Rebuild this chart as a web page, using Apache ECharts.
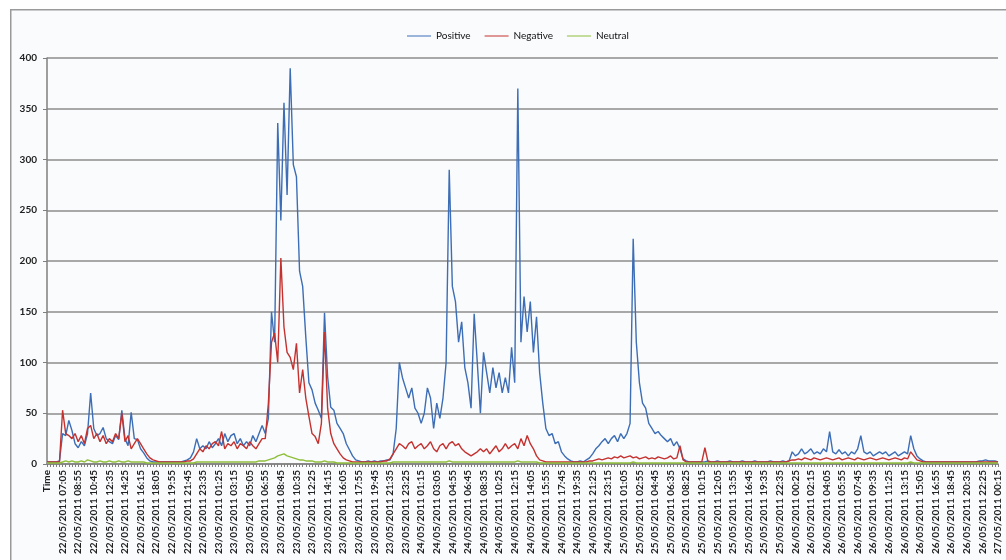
<!DOCTYPE html>
<html>
<head>
<meta charset="utf-8">
<script src="https://cdn.jsdelivr.net/npm/echarts@6/dist/echarts.min.js"></script>
<style>
  html, body { margin: 0; padding: 0; background: #ffffff; }
  #chart { width: 1006px; height: 560px; }
</style>
</head>
<body>
<div id="chart"></div>
<script>
// tick labels shown on the x axis (one every 5 samples)
const tickLabels = [
  'Time',
  '22/05/2011 07:05', '22/05/2011 08:55', '22/05/2011 10:45', '22/05/2011 12:35', '22/05/2011 14:25',
  '22/05/2011 16:15', '22/05/2011 18:05', '22/05/2011 19:55', '22/05/2011 21:45', '22/05/2011 23:35',
  '23/05/2011 01:25', '23/05/2011 03:15', '23/05/2011 05:05', '23/05/2011 06:55', '23/05/2011 08:45',
  '23/05/2011 10:35', '23/05/2011 12:25', '23/05/2011 14:15', '23/05/2011 16:05', '23/05/2011 17:55',
  '23/05/2011 19:45', '23/05/2011 21:35', '23/05/2011 23:25',
  '24/05/2011 01:15', '24/05/2011 03:05', '24/05/2011 04:55', '24/05/2011 06:45', '24/05/2011 08:35',
  '24/05/2011 10:25', '24/05/2011 12:15', '24/05/2011 14:05', '24/05/2011 15:55', '24/05/2011 17:45',
  '24/05/2011 19:35', '24/05/2011 21:25', '24/05/2011 23:15',
  '25/05/2011 01:05', '25/05/2011 02:55', '25/05/2011 04:45', '25/05/2011 06:35', '25/05/2011 08:25',
  '25/05/2011 10:15', '25/05/2011 12:05', '25/05/2011 13:55', '25/05/2011 16:45', '25/05/2011 19:35',
  '25/05/2011 22:35',
  '26/05/2011 00:25', '26/05/2011 02:15', '26/05/2011 04:05', '26/05/2011 05:55', '26/05/2011 07:45',
  '26/05/2011 09:35', '26/05/2011 11:25', '26/05/2011 13:15', '26/05/2011 15:05', '26/05/2011 16:55',
  '26/05/2011 18:45', '26/05/2011 20:35', '26/05/2011 22:25',
  '27/05/2011 00:15'
];
const STEP = 5;

const positive = [
  2, 2, 2, 2, 3, 30, 28, 43, 33, 20,
  16, 22, 18, 30, 70, 35, 28, 30, 36, 25,
  22, 20, 28, 24, 53, 25, 18, 51, 25, 24,
  15, 11, 6, 3, 2, 2, 2, 2, 2, 2,
  2, 2, 2, 2, 3, 4, 6, 12, 25, 15,
  18, 15, 22, 16, 20, 25, 18, 30, 22, 28,
  30, 20, 25, 18, 22, 18, 28, 22, 30, 38,
  30, 45, 150, 120, 336, 240, 356, 265, 390, 295,
  283, 190, 175, 125, 80, 73, 60, 53, 45, 149,
  86, 56, 53, 40, 35, 30, 20, 14, 8, 4,
  3, 2, 2, 3, 2, 3, 2, 3, 3, 4,
  4, 10, 35, 100, 85, 75, 65, 75, 55, 50,
  40, 50, 75, 65, 35, 60, 45, 65, 100, 290,
  175, 160, 120, 140, 95, 80, 55, 148, 100, 50,
  110, 90, 70, 95, 75, 90, 70, 85, 70, 115,
  80, 370, 120, 165, 130, 160, 110, 145, 90, 60,
  35, 28, 30, 20, 22, 12, 8, 5, 3, 2,
  2, 3, 2, 4, 6, 10, 15, 18, 22, 25,
  20, 25, 28, 22, 30, 25, 30, 40, 222, 120,
  80, 60, 55, 40, 35, 30, 32, 28, 25, 22,
  25, 18, 22, 15, 5, 3, 2, 2, 2, 2,
  2, 2, 3, 2, 2, 3, 2, 2, 2, 3,
  2, 2, 2, 3, 2, 2, 2, 3, 2, 2,
  2, 2, 3, 2, 2, 2, 3, 2, 3, 12,
  8, 10, 15, 10, 12, 15, 10, 12, 10, 15,
  12, 32, 12, 10, 14, 10, 12, 8, 12, 10,
  15, 28, 12, 10, 12, 8, 10, 12, 10, 12,
  8, 10, 12, 8, 10, 12, 10, 28, 15, 8,
  5, 3, 2, 2, 2, 2, 2, 2, 2, 2,
  2, 2, 2, 2, 2, 2, 2, 2, 2, 3,
  3, 4, 3, 3, 3, 2
];
const negative = [
  2, 2, 2, 2, 2, 53, 30, 28, 25, 30,
  22, 28, 20, 35, 38, 25, 30, 22, 28, 20,
  25, 22, 30, 25, 50, 22, 28, 15, 20, 25,
  20, 15, 10, 6, 4, 3, 2, 2, 2, 2,
  2, 2, 2, 2, 2, 3, 3, 5, 10, 15,
  12, 18, 15, 20, 22, 18, 32, 15, 20, 18,
  22, 15, 20, 18, 15, 22, 18, 15, 20, 25,
  25, 60, 120, 129, 100, 203, 135, 110, 105, 93,
  119, 70, 93, 65, 47, 30, 27, 20, 40, 130,
  55, 30, 20, 15, 10, 6, 4, 3, 2, 2,
  2, 2, 2, 2, 2, 2, 2, 2, 3, 3,
  5, 10, 15, 20, 18, 15, 20, 22, 15, 18,
  20, 15, 18, 22, 15, 12, 18, 20, 15, 20,
  22, 18, 20, 15, 12, 10, 8, 10, 12, 15,
  12, 15, 10, 14, 18, 12, 15, 20, 15, 18,
  20, 15, 25, 18, 28, 20, 15, 8, 4, 3,
  2, 2, 2, 2, 2, 2, 2, 2, 2, 2,
  2, 2, 2, 2, 3, 3, 4, 5, 4, 5,
  6, 5, 7, 6, 8, 6, 7, 8, 6, 7,
  5, 6, 7, 5, 6, 5, 7, 6, 5, 6,
  8, 5, 6, 18, 4, 2, 2, 2, 2, 2,
  2, 16, 2, 2, 2, 2, 2, 2, 2, 2,
  2, 2, 2, 2, 2, 2, 2, 2, 2, 2,
  2, 2, 2, 2, 2, 2, 2, 2, 3, 4,
  4, 5, 4, 6, 5, 4, 6, 5, 4, 5,
  6, 5, 4, 5, 6, 4, 5, 6, 5, 4,
  6, 5, 4, 5, 6, 5, 4, 5, 6, 5,
  4, 5, 6, 5, 4, 6, 5, 12, 8, 4,
  3, 2, 2, 2, 2, 2, 2, 2, 2, 2,
  2, 2, 2, 2, 2, 2, 2, 2, 2, 2,
  2, 2, 2, 2, 2, 2
];
const neutral = [
  1, 1, 1, 1, 1, 2, 3, 2, 3, 2,
  2, 3, 2, 4, 3, 2, 2, 3, 2, 2,
  3, 2, 2, 3, 2, 2, 3, 2, 2, 2,
  2, 2, 1, 1, 1, 1, 1, 1, 1, 1,
  1, 1, 1, 1, 1, 1, 1, 1, 2, 2,
  2, 2, 2, 2, 2, 2, 2, 2, 2, 2,
  2, 2, 2, 2, 2, 2, 2, 2, 3, 3,
  3, 4, 5, 6, 8, 9, 10, 8, 7, 6,
  5, 4, 4, 3, 3, 3, 2, 2, 2, 3,
  2, 2, 2, 1, 1, 1, 1, 1, 1, 1,
  1, 1, 1, 1, 1, 1, 1, 1, 1, 1,
  1, 2, 2, 2, 2, 2, 2, 2, 2, 2,
  2, 2, 2, 2, 2, 2, 2, 2, 2, 3,
  2, 2, 2, 2, 2, 2, 2, 2, 2, 2,
  2, 2, 2, 2, 2, 2, 2, 2, 2, 2,
  2, 3, 2, 2, 2, 2, 2, 2, 1, 1,
  1, 1, 1, 1, 1, 1, 1, 1, 1, 1,
  1, 1, 1, 1, 1, 1, 1, 1, 1, 1,
  1, 1, 1, 1, 1, 1, 1, 1, 2, 1,
  1, 1, 1, 1, 1, 1, 1, 1, 1, 1,
  1, 1, 1, 1, 1, 1, 1, 1, 1, 1,
  1, 1, 1, 1, 1, 1, 1, 1, 1, 1,
  1, 1, 1, 1, 1, 1, 1, 1, 1, 1,
  1, 1, 1, 1, 1, 1, 1, 1, 1, 1,
  1, 1, 1, 1, 1, 1, 1, 1, 1, 1,
  1, 1, 1, 1, 1, 1, 1, 1, 1, 1,
  1, 1, 1, 1, 1, 1, 1, 1, 1, 1,
  1, 1, 1, 1, 1, 1, 1, 2, 1, 1,
  1, 1, 1, 1, 1, 1, 1, 1, 1, 1,
  1, 1, 1, 1, 1, 1, 1, 1, 1, 1,
  1, 1, 1, 1, 1, 1
];

// build the full category list: every tick label plus the samples between them
function parseTime(s) {
  const m = s.match(/(\d+)\/(\d+)\/(\d+) (\d+):(\d+)/);
  if (!m) return null;
  return Date.UTC(+m[3], +m[2] - 1, +m[1], +m[4], +m[5]);
}
function fmtTime(t) {
  const d = new Date(t);
  const p = (n) => String(n).padStart(2, '0');
  return p(d.getUTCDate()) + '/' + p(d.getUTCMonth() + 1) + '/' + d.getUTCFullYear() +
    ' ' + p(d.getUTCHours()) + ':' + p(d.getUTCMinutes());
}
const categories = [];
tickLabels.forEach((label, k) => {
  categories.push(label);
  if (k === tickLabels.length - 1) return;
  const a = parseTime(label), b = parseTime(tickLabels[k + 1]);
  for (let j = 1; j < STEP; j++) {
    categories.push(a !== null && b !== null ? fmtTime(a + (b - a) * j / STEP) : label + ' ' + j);
  }
});

const chart = echarts.init(document.getElementById('chart'));

const lineSeries = (name, data, color) => ({
  name,
  type: 'line',
  data,
  showSymbol: false,
  symbol: 'none',
  sampling: null,
  lineStyle: { color, width: 1.4 },
  itemStyle: { color }
});

chart.setOption({
  backgroundColor: '#ffffff',
  animation: false,
  textStyle: { fontFamily: 'Lato, "Liberation Sans", sans-serif' },
  graphic: [{
    type: 'rect',
    left: 10,
    top: 9,
    shape: { width: 1010, height: 570 },
    style: { fill: '#f9fbfd', stroke: '#9a9a9a', lineWidth: 1.5 },
    z: -10
  }],
  legend: {
    top: 26,
    left: 402,
    itemWidth: 24,
    itemHeight: 8,
    itemGap: 14,
    icon: 'path://M0,4L24,4L24,5L0,5Z',
    textStyle: { fontSize: 10, color: '#111' },
    data: ['Positive', 'Negative', 'Neutral']
  },
  grid: { left: 47, right: 8, top: 58, bottom: 96 },
  xAxis: {
    type: 'category',
    data: categories,
    boundaryGap: false,
    axisLine: { lineStyle: { color: '#7f7f7f', width: 1.5 } },
    axisTick: { show: true, interval: 0, length: 3, lineStyle: { color: '#7f7f7f' } },
    axisLabel: {
      interval: STEP - 1,
      rotate: 90,
      fontSize: 10,
      fontWeight: 'bold',
      color: '#222',
      margin: 6
    },
    splitLine: { show: false }
  },
  yAxis: {
    type: 'value',
    min: 0,
    max: 400,
    interval: 50,
    axisLine: { show: true, lineStyle: { color: '#7f7f7f', width: 1.5 } },
    axisTick: { show: true, length: 4, lineStyle: { color: '#7f7f7f' } },
    axisLabel: { fontSize: 10, fontWeight: 'bold', color: '#222', margin: 10 },
    splitLine: { lineStyle: { color: '#8c8c8c', width: 1.5 } }
  },
  series: [
    lineSeries('Positive', positive, '#3d6db5'),
    lineSeries('Negative', negative, '#c4322f'),
    lineSeries('Neutral', neutral, '#8fbf3a')
  ]
});

window.addEventListener('resize', () => chart.resize());
</script>
</body>
</html>
